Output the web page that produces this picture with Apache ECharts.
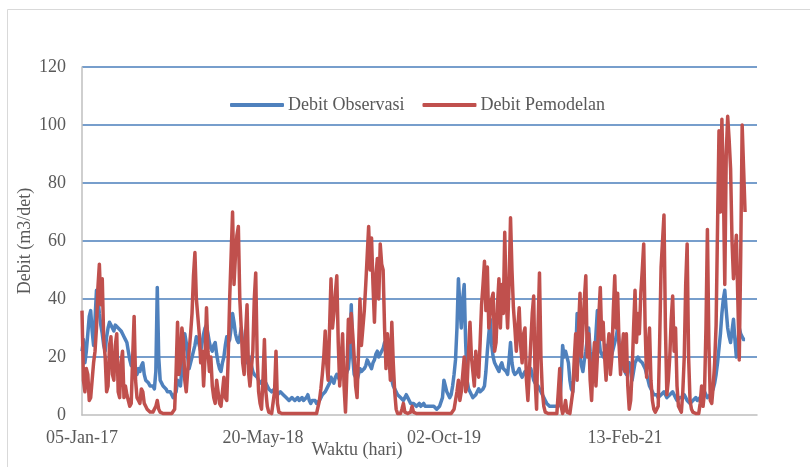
<!DOCTYPE html>
<html>
<head>
<meta charset="utf-8">
<script src="https://cdn.jsdelivr.net/npm/echarts@6/dist/echarts.min.js"></script>
<style>html,body{margin:0;padding:0;background:#fff}#c{width:810px;height:467px}</style>
</head>
<body>
<div id="c"></div>
<script>
const STEP_DAYS = 4;
const xTickLabels = ["05-Jan-17", "20-May-18", "02-Oct-19", "13-Feb-21"];
const yTicks = [0, 20, 40, 60, 80, 100, 120];
const seriesNames = ["Debit Observasi", "Debit Pemodelan"];

const debitObservasi = [
  22,26,18,22,28,34,36,29,24,33,43,40,35,31,28,24,22,27,30,32,
  31,30,29,31,31,30,30,29,28,27,26,25,22,19,17,19,18,15,14,16,
  15,17,18,14,12,12,11,10,10,10,9,15,44,20,12,11,10,10,9,8,
  8,8,7,6,6,8,12,11,10,16,22,28,25,20,16,18,20,22,24,27,
  26,24,22,25,28,30,31,28,25,23,22,24,25,21,18,16,15,18,20,24,
  27,25,26,30,35,32,28,26,25,27,30,25,22,20,18,19,20,17,15,14,
  14,13,12,11,11,12,12,11,10,9,9,8,8,9,8,7,7,8,8,7,
  7,6,6,5,5,6,6,5,5,6,5,5,6,5,5,6,7,5,4,5,
  5,5,4,4,5,6,7,7,8,9,9,11,13,12,11,13,14,13,12,14,
  15,14,13,15,16,22,38,20,14,13,12,14,16,15,15,16,17,19,18,17,
  16,18,19,21,22,20,21,22,23,25,24,22,20,15,12,10,9,8,7,7,
  6,6,5,6,7,6,5,4,4,4,4,3,3,4,3,3,4,3,3,3,
  3,3,3,3,3,2,2,3,3,6,12,10,8,7,6,7,10,14,19,30,
  47,38,30,40,45,25,12,9,8,7,6,6,7,8,9,8,8,9,10,15,
  22,28,33,24,20,18,17,16,15,17,18,16,16,15,14,19,25,18,15,14,
  14,15,16,14,13,14,15,15,14,15,16,14,12,11,11,10,9,8,7,6,
  5,4,4,3,3,3,3,3,3,3,4,12,24,20,22,20,18,12,9,8,
  8,20,35,26,20,17,15,19,22,26,30,22,18,19,20,28,36,27,22,21,
  20,22,24,20,18,20,21,23,25,27,30,25,22,18,16,15,14,16,18,15,
  12,15,18,19,20,19,19,18,17,16,14,12,10,9,8,7,7,7,6,6,
  7,7,8,7,6,6,7,7,8,7,6,5,5,6,6,6,7,6,5,5,
  4,4,5,5,6,5,5,6,7,7,8,7,6,6,7,8,9,11,14,18,
  23,28,35,40,43,36,30,27,25,29,33,26,20,24,30,28,27,26,26
];

const debitPemodelan = [
  36,12,8,16,14,5,6,12,18,22,30,44,52,38,47,26,20,8,10,24,
  27,14,12,24,28,8,6,18,22,6,10,7,5,3,4,20,34,12,6,5,
  4,9,8,4,3,2,2,1,1,1,1,3,5,2,1,0.5,0.5,0.5,0.5,0.5,
  0.5,0.5,0.5,1,2,15,32,14,18,30,26,12,8,15,22,28,35,48,56,40,
  34,28,18,22,10,20,37,22,15,20,10,6,4,12,8,4,3,8,13,6,
  5,20,40,55,70,45,55,62,65,40,30,18,14,28,38,15,10,16,22,40,
  49,20,8,4,2,12,26,8,3,1,0.5,0.5,1,8,22,4,1,0.5,0.5,0.5,
  0.5,0.5,0.5,0.5,0.5,0.5,0.5,0.5,0.5,0.5,0.5,0.5,0.5,0.5,0.5,0.5,0.5,0.5,0.5,0.5,
  0.5,0.5,0.5,1,5,9,14,20,29,18,12,30,47,30,35,42,48,25,10,18,
  28,10,1,15,33,25,35,28,20,10,6,22,40,24,30,36,45,55,65,50,
  61,45,32,48,54,40,59,52,50,30,16,28,22,12,32,18,8,2,0.5,0.5,
  0.5,2,4,1,0.5,0.5,0.5,1,3,1,0.5,0.5,0.5,0.5,0.5,0.5,0.5,0.5,0.5,0.5,
  0.5,0.5,0.5,0.5,0.5,0.5,0.5,0.5,0.5,0.5,0.5,0.5,0.5,0.5,0.5,0.5,0.5,2,5,8,
  12,5,8,14,20,8,10,22,32,20,15,10,22,16,13,25,38,45,53,36,
  51,30,35,40,42,22,25,38,47,30,45,35,63,40,30,45,68,50,37,30,
  22,30,37,24,18,28,30,12,5,15,25,35,41,12,2,30,49,20,8,3,
  1,0.5,0.5,0.5,0.5,0.5,0.5,0.5,0.5,8,16,3,0.5,2,5,1,0.5,0.5,1,8,
  19,28,12,30,42,20,30,40,48,20,28,12,5,18,25,10,20,34,44,26,
  32,20,12,22,28,14,20,36,48,30,42,24,14,22,28,15,28,10,2,5,
  15,30,43,25,35,28,42,50,59,30,13,22,30,12,5,2,1,1,3,25,
  51,60,69,30,7,12,20,33,41,22,30,10,3,2,1,8,20,45,59,20,
  5,2,1,0.5,0.5,0.5,0.5,4,10,3,8,30,64,25,5,4,10,18,31,65,
  98,70,102,80,45,90,103,95,85,60,47,55,62,40,19,55,100,85,70
];

const toPoints = arr => arr.map((v, i) => [i * STEP_DAYS, v]);
const FONT = '"Liberation Serif", "Times New Roman", serif';
const TXT = '#595959';

const chart = echarts.init(document.getElementById('c'), null, {renderer: 'canvas'});
chart.setOption({
  animation: false,
  backgroundColor: '#ffffff',
  textStyle: {fontFamily: FONT},
  graphic: [
    {type: 'rect', shape: {x: 7.5, y: 9.5, width: 820, height: 480}, style: {fill: 'none', stroke: '#D9D9D9', lineWidth: 1}, z: -1},
    {type: 'text', x: 357, y: 450, style: {text: 'Waktu (hari)', fontFamily: FONT, fontSize: 18, fill: TXT, align: 'center', verticalAlign: 'middle'}}
  ],
  legend: {
    left: 225, top: 91,
    itemWidth: 54, itemHeight: 4, itemGap: 18,
    icon: 'roundRect',
    textStyle: {fontFamily: FONT, fontSize: 18, color: TXT, padding: [0, 0, 0, -1]},
    data: seriesNames
  },
  grid: {left: 82, right: 53, top: 67, bottom: 52, containLabel: false},
  xAxis: {
    type: 'value', min: 0, max: 1865, interval: 500,
    axisLine: {show: true, lineStyle: {color: '#BFBFBF', width: 1.5}},
    axisTick: {show: false},
    splitLine: {show: false},
    axisLabel: {
      margin: 14, color: TXT, fontFamily: FONT, fontSize: 18,
      showMaxLabel: false,
      formatter: v => (v % 500 === 0 && xTickLabels[v / 500] !== undefined) ? xTickLabels[v / 500] : ''
    }
  },
  yAxis: {
    type: 'value', min: yTicks[0], max: yTicks[yTicks.length - 1], interval: 20,
    name: 'Debit (m3/det)', nameLocation: 'middle', nameGap: 48, nameRotate: 90,
    nameMoveOverlap: false,
    nameTextStyle: {fontFamily: FONT, fontSize: 18, color: TXT},
    axisLine: {show: true, lineStyle: {color: '#BFBFBF', width: 1.5}},
    axisTick: {show: false},
    axisLabel: {margin: 16, color: TXT, fontFamily: FONT, fontSize: 18},
    splitLine: {show: true, showMinLine: false, lineStyle: {color: '#4A7EBB', width: 1.6}}
  },
  series: [
    {
      name: seriesNames[0], type: 'line', data: toPoints(debitObservasi),
      showSymbol: false, symbol: 'none',
      lineStyle: {color: '#4F81BD', width: 3.5, join: 'round'},
      itemStyle: {color: '#4F81BD'}
    },
    {
      name: seriesNames[1], type: 'line', data: toPoints(debitPemodelan),
      showSymbol: false, symbol: 'none',
      lineStyle: {color: '#C0504D', width: 3.5, join: 'round'},
      itemStyle: {color: '#C0504D'}
    }
  ]
});
</script>
</body>
</html>
